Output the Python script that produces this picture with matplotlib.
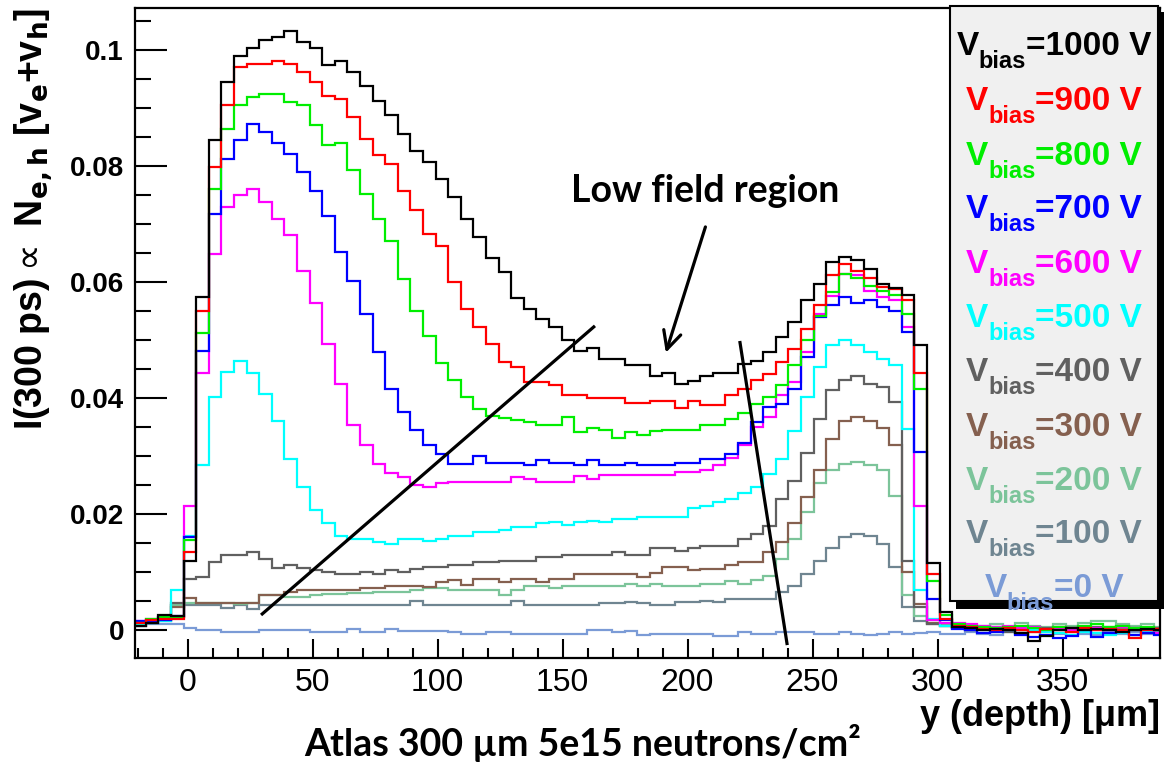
import numpy as np
import matplotlib.pyplot as plt
from matplotlib.ticker import MultipleLocator

W, H = 1164, 765

# bins: 82 bins of ~5 um
n_bins = 82
bin_width = 5.04
first_edge = -21.76

tail_black = [0.0005, 0.0003, 0.0000, 0.0002, 0.0000, -0.0005, -0.0018, -0.0010, 0.0000, 0.0003, 0.0000, 0.0002, 0.0000, -0.0003, 0.0000, 0.0002, 0.0000]
tail_red = [0.0008, 0.0006, 0.0002, 0.0000, 0.0003, 0.0000, -0.0003, 0.0002, 0.0000, -0.0003, 0.0003, 0.0000, 0.0002, 0.0000, -0.0014, 0.0000, 0.0002]
tail_green = [0.0010, 0.0008, 0.0005, 0.0003, 0.0005, 0.0008, 0.0003, 0.0000, 0.0005, 0.0003, 0.0008, 0.0010, 0.0005, 0.0008, 0.0003, 0.0005, 0.0000]
tail_blue = [0.0002, 0.0000, -0.0005, -0.0003, 0.0000, -0.0008, -0.0012, -0.0008, -0.0014, -0.0010, 0.0000, -0.0012, -0.0005, -0.0003, -0.0008, -0.0005, -0.0008]
tail_magenta = [0.0012, 0.0010, 0.0008, 0.0005, 0.0008, 0.0003, 0.0005, 0.0000, 0.0003, 0.0000, 0.0005, 0.0003, 0.0000, 0.0005, 0.0003, 0.0000, -0.0005]
tail_cyan = [0.0005, 0.0003, 0.0000, -0.0003, 0.0000, -0.0005, 0.0000, -0.0003, -0.0005, -0.0008, -0.0003, -0.0005, -0.0008, -0.0005, -0.0008, -0.0003, -0.0005]
tail_400 = [0.0005, 0.0000, 0.0003, 0.0000, -0.0003, 0.0000, 0.0005, 0.0003, 0.0000, 0.0003, 0.0000, 0.0005, 0.0003, 0.0005, 0.0000, 0.0003, 0.0000]
tail_300 = [0.0003, 0.0005, 0.0000, 0.0003, 0.0005, 0.0000, 0.0003, 0.0000, 0.0005, 0.0003, 0.0005, 0.0000, 0.0003, 0.0005, 0.0003, 0.0000, 0.0003]
tail_200 = [0.0010, 0.0005, 0.0008, 0.0010, 0.0005, 0.0012, 0.0008, 0.0005, 0.0010, 0.0008, 0.0012, 0.0015, 0.0015, 0.0010, 0.0008, 0.0010, 0.0005]
tail_100 = [0.0003, 0.0000, 0.0003, 0.0005, 0.0000, 0.0003, 0.0000, 0.0003, 0.0005, 0.0003, 0.0000, 0.0003, 0.0005, 0.0003, 0.0000, 0.0003, 0.0000]
tail_0 = [-0.0006, -0.0004, -0.0006, -0.0008, -0.0004, -0.0006, -0.0004, -0.0008, -0.0006, -0.0004, -0.0006, -0.0008, -0.0004, -0.0006, -0.0004, -0.0006, -0.0004]

v1000 = [0.0008, 0.0012, 0.0027, 0.0025, 0.0120, 0.0574, 0.0845, 0.0945, 0.0991, 0.1004,
         0.1017, 0.1023, 0.1033, 0.1015, 0.1004, 0.0975, 0.0981, 0.0963, 0.0938, 0.0913,
         0.0888, 0.0855, 0.0827, 0.0807, 0.0778, 0.0747, 0.0709, 0.0678, 0.0641, 0.0618,
         0.0572, 0.0554, 0.0537, 0.0523, 0.0500, 0.0481, 0.0486, 0.0468, 0.0468, 0.0458,
         0.0458, 0.0439, 0.0444, 0.0425, 0.0429, 0.0439, 0.0444, 0.0444, 0.0459, 0.0465,
         0.0480, 0.0506, 0.0532, 0.0569, 0.0597, 0.0635, 0.0643, 0.0638, 0.0623, 0.0597,
         0.0590, 0.0578, 0.0491, 0.0115, 0.0031] + tail_black
v900 = [0.0012, 0.0018, 0.0020, 0.0020, 0.0135, 0.0551, 0.0799, 0.0906, 0.0971, 0.0977,
        0.0977, 0.0981, 0.0977, 0.0963, 0.0945, 0.0921, 0.0916, 0.0885, 0.0847, 0.0820,
        0.0804, 0.0757, 0.0724, 0.0683, 0.0663, 0.0600, 0.0554, 0.0523, 0.0494, 0.0462,
        0.0454, 0.0428, 0.0428, 0.0422, 0.0405, 0.0405, 0.0400, 0.0400, 0.0400, 0.0392,
        0.0392, 0.0396, 0.0396, 0.0383, 0.0396, 0.0388, 0.0388, 0.0405, 0.0416, 0.0431,
        0.0442, 0.0462, 0.0485, 0.0520, 0.0560, 0.0612, 0.0632, 0.0620, 0.0607, 0.0592,
        0.0589, 0.0569, 0.0444, 0.0097, 0.0020] + tail_red
v800 = [0.0012, 0.0020, 0.0022, 0.0023, 0.0155, 0.0513, 0.0761, 0.0865, 0.0906, 0.0919,
        0.0925, 0.0925, 0.0911, 0.0905, 0.0872, 0.0836, 0.0841, 0.0793, 0.0753, 0.0709,
        0.0672, 0.0606, 0.0551, 0.0508, 0.0460, 0.0431, 0.0402, 0.0382, 0.0370, 0.0366,
        0.0362, 0.0359, 0.0354, 0.0354, 0.0368, 0.0342, 0.0349, 0.0345, 0.0331, 0.0342,
        0.0337, 0.0343, 0.0346, 0.0346, 0.0346, 0.0354, 0.0354, 0.0365, 0.0375, 0.0390,
        0.0402, 0.0422, 0.0458, 0.0500, 0.0542, 0.0584, 0.0615, 0.0607, 0.0593, 0.0585,
        0.0578, 0.0546, 0.0416, 0.0084, 0.0026] + tail_green
v700 = [0.0015, 0.0015, 0.0018, 0.0025, 0.0160, 0.0481, 0.0718, 0.0813, 0.0846, 0.0873,
        0.0860, 0.0841, 0.0822, 0.0790, 0.0757, 0.0715, 0.0653, 0.0603, 0.0546, 0.0480,
        0.0416, 0.0377, 0.0345, 0.0319, 0.0303, 0.0287, 0.0287, 0.0300, 0.0289, 0.0289,
        0.0289, 0.0284, 0.0293, 0.0289, 0.0289, 0.0284, 0.0293, 0.0284, 0.0284, 0.0289,
        0.0284, 0.0284, 0.0284, 0.0289, 0.0289, 0.0296, 0.0296, 0.0304, 0.0322, 0.0359,
        0.0385, 0.0390, 0.0416, 0.0471, 0.0540, 0.0560, 0.0574, 0.0565, 0.0569, 0.0557,
        0.0551, 0.0514, 0.0307, 0.0054, 0.0018] + tail_blue
v600 = [0.0016, 0.0020, 0.0022, 0.0022, 0.0215, 0.0444, 0.0649, 0.0730, 0.0751, 0.0761,
        0.0739, 0.0709, 0.0681, 0.0620, 0.0565, 0.0494, 0.0425, 0.0353, 0.0319, 0.0286,
        0.0271, 0.0264, 0.0251, 0.0247, 0.0253, 0.0255, 0.0255, 0.0255, 0.0255, 0.0255,
        0.0264, 0.0260, 0.0255, 0.0255, 0.0255, 0.0266, 0.0261, 0.0267, 0.0267, 0.0267,
        0.0267, 0.0267, 0.0267, 0.0272, 0.0272, 0.0277, 0.0285, 0.0297, 0.0319, 0.0350,
        0.0368, 0.0405, 0.0428, 0.0480, 0.0546, 0.0577, 0.0615, 0.0612, 0.0585, 0.0574,
        0.0569, 0.0523, 0.0215, 0.0017, 0.0012] + tail_magenta
v500 = [0.0010, 0.0012, 0.0015, 0.0069, 0.0163, 0.0284, 0.0402, 0.0446, 0.0465, 0.0444,
        0.0407, 0.0360, 0.0295, 0.0247, 0.0207, 0.0184, 0.0162, 0.0157, 0.0157, 0.0152,
        0.0148, 0.0157, 0.0157, 0.0153, 0.0157, 0.0163, 0.0163, 0.0169, 0.0169, 0.0172,
        0.0178, 0.0178, 0.0184, 0.0187, 0.0181, 0.0187, 0.0189, 0.0187, 0.0191, 0.0191,
        0.0195, 0.0195, 0.0195, 0.0195, 0.0210, 0.0215, 0.0221, 0.0227, 0.0236, 0.0247,
        0.0270, 0.0296, 0.0344, 0.0402, 0.0454, 0.0491, 0.0500, 0.0491, 0.0480, 0.0468,
        0.0458, 0.0347, 0.0069, 0.0020, 0.0008] + tail_cyan
v400 = [0.0008, 0.0012, 0.0018, 0.0046, 0.0089, 0.0092, 0.0118, 0.0130, 0.0130, 0.0135,
        0.0123, 0.0107, 0.0112, 0.0107, 0.0103, 0.0100, 0.0097, 0.0097, 0.0101, 0.0097,
        0.0103, 0.0101, 0.0106, 0.0109, 0.0109, 0.0112, 0.0112, 0.0118, 0.0118, 0.0120,
        0.0120, 0.0120, 0.0126, 0.0126, 0.0130, 0.0130, 0.0130, 0.0130, 0.0135, 0.0130,
        0.0130, 0.0141, 0.0141, 0.0136, 0.0141, 0.0146, 0.0146, 0.0146, 0.0158, 0.0165,
        0.0179, 0.0227, 0.0258, 0.0305, 0.0365, 0.0415, 0.0431, 0.0439, 0.0425, 0.0419,
        0.0393, 0.0120, 0.0040, 0.0010, 0.0008] + tail_400
v300 = [0.0010, 0.0015, 0.0020, 0.0040, 0.0056, 0.0046, 0.0046, 0.0046, 0.0046, 0.0046,
        0.0060, 0.0060, 0.0066, 0.0069, 0.0069, 0.0069, 0.0069, 0.0069, 0.0073, 0.0073,
        0.0077, 0.0077, 0.0077, 0.0074, 0.0083, 0.0086, 0.0078, 0.0089, 0.0089, 0.0083,
        0.0089, 0.0089, 0.0083, 0.0089, 0.0089, 0.0097, 0.0097, 0.0097, 0.0097, 0.0097,
        0.0092, 0.0099, 0.0109, 0.0109, 0.0103, 0.0106, 0.0106, 0.0112, 0.0118, 0.0118,
        0.0135, 0.0152, 0.0185, 0.0230, 0.0276, 0.0330, 0.0360, 0.0368, 0.0360, 0.0349,
        0.0320, 0.0100, 0.0045, 0.0012, 0.0008] + tail_300
v200 = [0.0010, 0.0015, 0.0018, 0.0043, 0.0047, 0.0047, 0.0047, 0.0047, 0.0045, 0.0047,
        0.0060, 0.0060, 0.0058, 0.0058, 0.0060, 0.0062, 0.0062, 0.0064, 0.0064, 0.0066,
        0.0066, 0.0066, 0.0069, 0.0072, 0.0072, 0.0069, 0.0069, 0.0069, 0.0069, 0.0061,
        0.0069, 0.0076, 0.0076, 0.0072, 0.0076, 0.0076, 0.0076, 0.0076, 0.0076, 0.0080,
        0.0076, 0.0080, 0.0076, 0.0076, 0.0076, 0.0080, 0.0080, 0.0084, 0.0080, 0.0086,
        0.0094, 0.0123, 0.0158, 0.0204, 0.0253, 0.0276, 0.0287, 0.0290, 0.0285, 0.0276,
        0.0232, 0.0060, 0.0025, 0.0012, 0.0010] + tail_200
v100 = [0.0010, 0.0012, 0.0015, 0.0043, 0.0043, 0.0043, 0.0043, 0.0038, 0.0043, 0.0037,
        0.0043, 0.0043, 0.0043, 0.0043, 0.0043, 0.0043, 0.0043, 0.0043, 0.0043, 0.0043,
        0.0043, 0.0043, 0.0051, 0.0043, 0.0043, 0.0043, 0.0043, 0.0043, 0.0043, 0.0043,
        0.0051, 0.0043, 0.0043, 0.0043, 0.0043, 0.0043, 0.0043, 0.0046, 0.0046, 0.0049,
        0.0046, 0.0043, 0.0043, 0.0049, 0.0049, 0.0051, 0.0049, 0.0054, 0.0054, 0.0054,
        0.0054, 0.0066, 0.0077, 0.0097, 0.0120, 0.0141, 0.0161, 0.0166, 0.0162, 0.0149,
        0.0109, 0.0040, 0.0015, 0.0010, 0.0010] + tail_100
v0 = [0.0008, 0.0010, 0.0010, 0.0011, 0.0003, 0.0000, 0.0000, -0.0003, -0.0003, -0.0003,
      0.0000, 0.0000, 0.0000, 0.0000, -0.0004, -0.0004, -0.0004, 0.0002, -0.0003, -0.0003,
      0.0002, -0.0001, -0.0001, -0.0001, -0.0001, -0.0003, -0.0006, -0.0006, -0.0003, -0.0003,
      -0.0006, -0.0006, -0.0006, -0.0006, -0.0006, -0.0006, 0.0000, 0.0000, -0.0003, -0.0001,
      -0.0009, -0.0006, -0.0006, -0.0006, -0.0006, -0.0006, -0.0010, -0.0010, -0.0004, -0.0007,
      -0.0007, -0.0004, -0.0004, -0.0004, -0.0006, -0.0006, -0.0004, -0.0006, -0.0008, -0.0006,
      -0.0004, -0.0006, -0.0005, -0.0004, -0.0006] + tail_0

voltages = ['1000', '900', '800', '700', '600', '500', '400', '300', '200', '100', '0']
series = [v1000, v900, v800, v700, v600, v500, v400, v300, v200, v100, v0]
colors = ['#000000', '#ff0000', '#00ee00', '#0000ff', '#ff00ff', '#00ffff',
          '#606060', '#85604f', '#7cc49a', '#6f8591', '#7b9bd6']

edges = first_edge + bin_width * np.arange(n_bins + 1)

fig = plt.figure(figsize=(W / 100, H / 100), dpi=100)
ax = fig.add_axes([135 / W, 1 - 658 / H, (1160 - 135) / W, (658 - 8) / H])

for vals, c in list(zip(series, colors))[::-1]:
    ax.stairs(vals, edges, baseline=None, color=c, lw=1.6)

ax.set_xlim(-21, 389)
ax.set_ylim(-0.0048, 0.1073)

ax.xaxis.set_major_locator(MultipleLocator(50))
ax.xaxis.set_minor_locator(MultipleLocator(10))
ax.set_yticks([0, 0.02, 0.04, 0.06, 0.08, 0.1])
ax.set_yticklabels(['0', '0.02', '0.04', '0.06', '0.08', '0.1'])
ax.yaxis.set_minor_locator(MultipleLocator(0.005))
ax.tick_params(which='both', direction='in', width=1.5, colors='black')
ax.tick_params(axis='y', which='major', length=23, pad=8)
ax.tick_params(axis='y', which='minor', length=11.5)
ax.tick_params(axis='x', which='major', length=14, pad=7)
ax.tick_params(axis='x', which='minor', length=7)
for lab in ax.get_yticklabels():
    lab.set_fontfamily('Liberation Sans')
    lab.set_fontweight('bold')
    lab.set_fontsize(20)
for lab in ax.get_xticklabels():
    lab.set_fontfamily('Liberation Sans')
    lab.set_fontsize(23)
for sp in ax.spines.values():
    sp.set_linewidth(1.6)

# annotation lines and arrow
ax.plot([29.9, 162.5], [0.0028, 0.0523], color='black', lw=2.3)
ax.plot([221.0, 239.8], [0.0496, -0.0023], color='black', lw=2.3)
ax.annotate('', xy=(191.0, 0.0474), xytext=(207.5, 0.0700),
            arrowprops=dict(arrowstyle='->', lw=2.3, color='black', mutation_scale=32))
ax.text(207, 0.0757, 'Low field region', ha='center', va='center', fontsize=27,
        fontweight='bold', family='Lato')

ax.set_ylabel(r'I(300 ps)$\propto$ N$_{\mathbf{e,h}}$ [v$_{\mathbf{e}}$+v$_{\mathbf{h}}$]',
              fontsize=27, fontweight='bold', family='Liberation Sans')
ax.yaxis.set_label_coords(-0.078, 1.0)
ax.yaxis.label.set_ha('right')

fig.text(1160 / W, 1 - 717 / H, r'y (depth) [$\mathregular{\mu}$m]', ha='right', va='center',
         fontsize=26, fontweight='bold', family='Liberation Sans')
fig.text(583 / W, 1 - 743 / H, 'Atlas 300 µm 5e15 neutrons/cm²', ha='center', va='center',
         fontsize=27, fontweight='bold', family='Lato')

# legend box with shadow
shadow = plt.Rectangle((956 / W, 1 - 609 / H), (1164 - 956) / W, (609 - 12) / H,
                       transform=fig.transFigure, facecolor='black', edgecolor='none', zorder=5)
box = plt.Rectangle((950 / W, 1 - 601 / H), (1158 - 950) / W, (601 - 6) / H,
                    transform=fig.transFigure, facecolor='#f0f0f0', edgecolor='black', lw=1.5,
                    zorder=6)
fig.add_artist(shadow)
fig.add_artist(box)

fig.canvas.draw()
renderer = fig.canvas.get_renderer()
baselines = [55, 110, 165, 218, 273, 327, 381, 436, 490, 543, 597]
for v, c, yb in zip(voltages, colors, baselines):
    parts = [('V', 24, 0), ('bias', 17, 13), ('=' + v + ' V', 24, 0)]
    texts = []
    for s, fs, drop in parts:
        t = fig.text(0, 1 - (yb + drop) / H, s, fontsize=fs, color=c, va='baseline',
                     family='Liberation Sans', fontweight='bold', zorder=7)
        texts.append(t)
    widths = [t.get_window_extent(renderer).width for t in texts]
    x0 = 1054 - sum(widths) / 2
    for t, w in zip(texts, widths):
        t.set_x(x0 / W)
        x0 += w

fig.savefig('out.png', dpi=100)
